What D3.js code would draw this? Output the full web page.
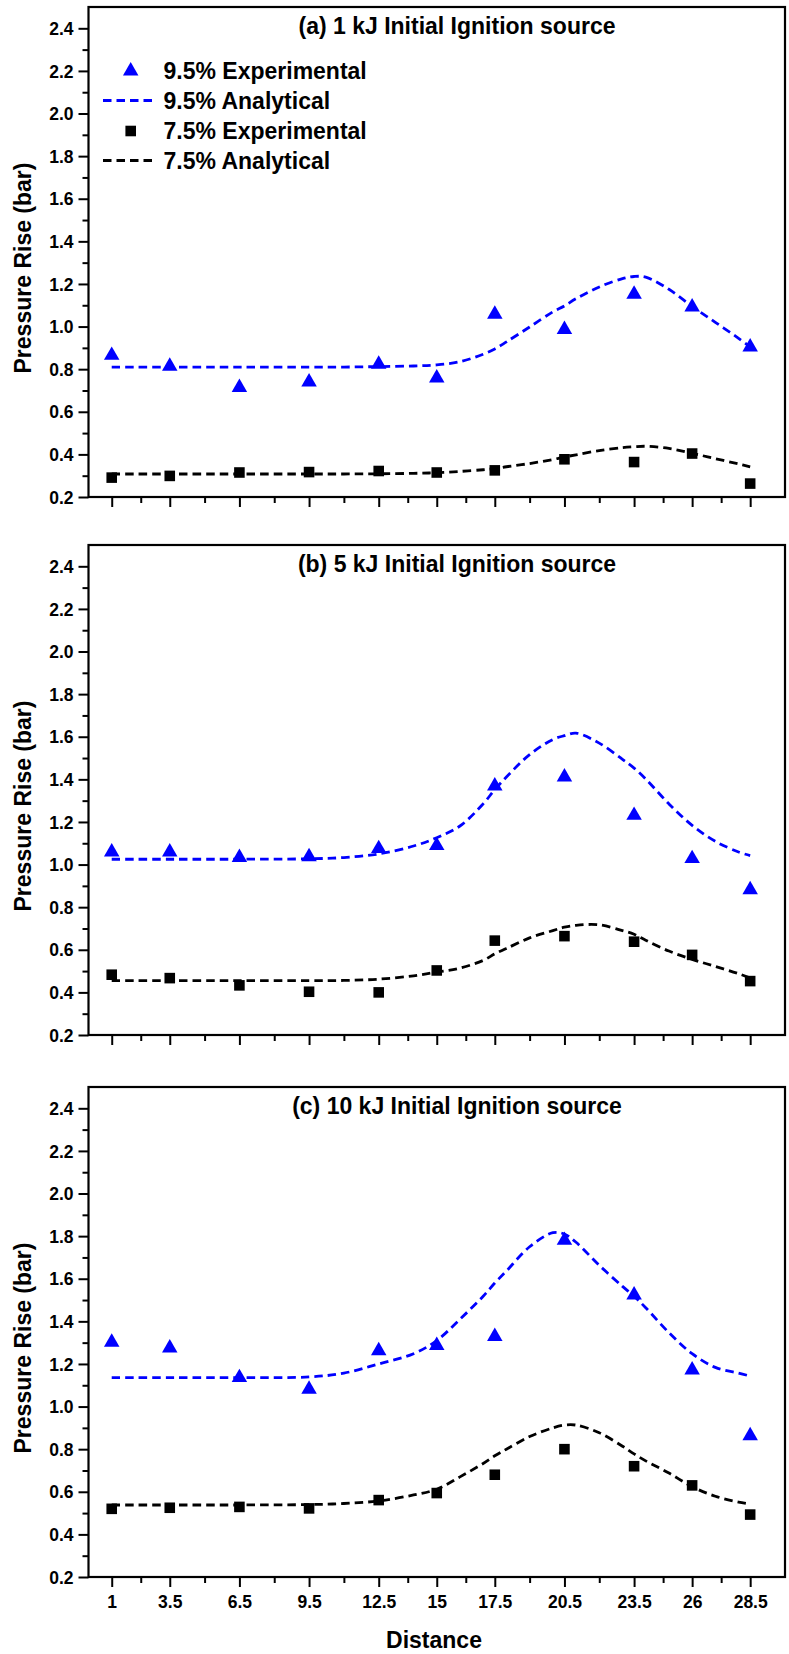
<!DOCTYPE html>
<html>
<head>
<meta charset="utf-8">
<script src="https://cdn.jsdelivr.net/npm/d3@7/dist/d3.min.js"></script>
<style>
  html, body { margin: 0; padding: 0; background: #fff; }
  svg text { font-family: "Liberation Sans", Arial, Helvetica, sans-serif; font-weight: bold; fill: #000; }
</style>
</head>
<body>
<svg id="chart" width="789" height="1654"></svg>
<script>
// Measurement positions along the duct and their tick labels
const distances = [1, 3.5, 6.5, 9.5, 12.5, 15, 17.5, 20.5, 23.5, 26, 28.5];
const distanceLabels = ["1", "3.5", "6.5", "9.5", "12.5", "15", "17.5", "20.5", "23.5", "26", "28.5"];
const minorDistances = [2.25, 5, 8, 11, 13.75, 16.25, 19, 22, 24.75, 27.25];
const pressureTicks = [0.2, 0.4, 0.6, 0.8, 1.0, 1.2, 1.4, 1.6, 1.8, 2.0, 2.2, 2.4];
const pressureMinor = [0.3, 0.5, 0.7, 0.9, 1.1, 1.3, 1.5, 1.7, 1.9, 2.1, 2.3];

const panelTitles = [
  "(a) 1 kJ Initial Ignition source",
  "(b) 5 kJ Initial Ignition source",
  "(c) 10 kJ Initial Ignition source"
];
const seriesNames = ["9.5% Experimental", "9.5% Analytical", "7.5% Experimental", "7.5% Analytical"];

// Measured pressure rise (bar)
const exp95_1kJ  = [0.865, 0.814, 0.714, 0.740, 0.823, 0.759, 1.058, 0.986, 1.152, 1.092, 0.904];
const exp75_1kJ  = [0.291, 0.299, 0.315, 0.317, 0.322, 0.315, 0.325, 0.377, 0.364, 0.404, 0.263];
const exp95_5kJ  = [1.059, 1.059, 1.033, 1.037, 1.075, 1.089, 1.369, 1.411, 1.231, 1.028, 0.882];
const exp75_5kJ  = [0.483, 0.467, 0.433, 0.403, 0.400, 0.503, 0.643, 0.664, 0.638, 0.576, 0.453];
const exp95_10kJ = [1.302, 1.275, 1.136, 1.081, 1.262, 1.287, 1.329, 1.780, 1.524, 1.172, 0.863];
const exp75_10kJ = [0.520, 0.525, 0.529, 0.522, 0.561, 0.594, 0.680, 0.800, 0.720, 0.630, 0.493];

// Analytical model, sampled along the duct
const modelX      = [1, 3.5, 6.5, 9.5, 11, 12.5, 14, 15, 16, 17, 17.5, 18, 19, 20, 20.5, 21, 22, 23, 23.5, 24, 25, 26, 27, 28, 28.5];
const ana95_1kJ   = [0.810, 0.810, 0.810, 0.810, 0.810, 0.812, 0.815, 0.820, 0.835, 0.870, 0.895, 0.928, 0.998, 1.069, 1.097, 1.131, 1.186, 1.225, 1.235, 1.232, 1.175, 1.095, 1.020, 0.945, 0.905];
const ana75_1kJ   = [0.308, 0.308, 0.308, 0.308, 0.308, 0.309, 0.311, 0.314, 0.320, 0.328, 0.333, 0.342, 0.357, 0.376, 0.388, 0.398, 0.418, 0.432, 0.436, 0.438, 0.428, 0.405, 0.380, 0.355, 0.341];
const ana95_5kJ   = [1.025, 1.025, 1.025, 1.027, 1.033, 1.050, 1.087, 1.126, 1.181, 1.285, 1.352, 1.411, 1.516, 1.587, 1.605, 1.617, 1.570, 1.494, 1.453, 1.402, 1.285, 1.184, 1.109, 1.059, 1.042];
const ana75_5kJ   = [0.455, 0.455, 0.455, 0.455, 0.456, 0.462, 0.478, 0.495, 0.514, 0.550, 0.581, 0.606, 0.656, 0.690, 0.706, 0.715, 0.717, 0.690, 0.673, 0.645, 0.594, 0.555, 0.522, 0.488, 0.468];
const ana95_10kJ  = [1.136, 1.136, 1.136, 1.139, 1.157, 1.200, 1.248, 1.310, 1.410, 1.518, 1.580, 1.636, 1.750, 1.816, 1.810, 1.771, 1.663, 1.564, 1.518, 1.464, 1.347, 1.248, 1.184, 1.157, 1.143];
const ana75_10kJ  = [0.538, 0.538, 0.538, 0.540, 0.545, 0.557, 0.585, 0.612, 0.670, 0.733, 0.769, 0.800, 0.859, 0.900, 0.913, 0.913, 0.877, 0.814, 0.778, 0.745, 0.688, 0.624, 0.579, 0.552, 0.543];

const panels = [
  { title: panelTitles[0], e95: exp95_1kJ,  e75: exp75_1kJ,  a95: ana95_1kJ,  a75: ana75_1kJ,  legend: true,  xLabels: false },
  { title: panelTitles[1], e95: exp95_5kJ,  e75: exp75_5kJ,  a95: ana95_5kJ,  a75: ana75_5kJ,  legend: false, xLabels: false },
  { title: panelTitles[2], e95: exp95_10kJ, e75: exp75_10kJ, a95: ana95_10kJ, a75: ana75_10kJ, legend: false, xLabels: true }
];

const BLUE = "#0000ff";
const svg = d3.select("#chart");

const plotLeft = 88.5, plotRight = 785, plotH = 490;
const panelTops = [7, 545, 1087];

const x = d3.scaleLinear().domain([0, 30]).range([plotLeft, plotRight]);

const triangle = d3.symbol().type(d3.symbolTriangle).size(104);
const square = d3.symbol().type(d3.symbolSquare).size(112);

panels.forEach((p, i) => {
  const top = panelTops[i];
  const y = d3.scaleLinear().domain([0.2, 2.5]).range([top + plotH, top]);
  const g = svg.append("g");

  // y axis: major and minor ticks
  const yMajor = g.append("g").attr("transform", `translate(${plotLeft},0)`)
    .call(d3.axisLeft(y).tickValues(pressureTicks).tickSize(10).tickSizeOuter(0).tickFormat(d3.format(".1f")));
  const yMinor = g.append("g").attr("transform", `translate(${plotLeft},0)`)
    .call(d3.axisLeft(y).tickValues(pressureMinor).tickSize(6).tickSizeOuter(0).tickFormat(""));

  // x axis: major and minor ticks
  const xMajor = g.append("g").attr("transform", `translate(0,${top + plotH})`)
    .call(d3.axisBottom(x).tickValues(distances).tickSize(10).tickSizeOuter(0)
      .tickFormat((d, k) => p.xLabels ? distanceLabels[k] : ""));
  const xMinor = g.append("g").attr("transform", `translate(0,${top + plotH})`)
    .call(d3.axisBottom(x).tickValues(minorDistances).tickSize(6).tickSizeOuter(0).tickFormat(""));

  [yMajor, yMinor, xMajor, xMinor].forEach(a => {
    a.select(".domain").remove();
    a.selectAll(".tick line").attr("stroke", "#000").attr("stroke-width", 2);
  });
  yMajor.selectAll(".tick text").attr("font-size", 17.5).attr("x", -15).attr("dy", "0.35em");
  xMajor.selectAll(".tick text").attr("font-size", 17.5).attr("y", 19).attr("dy", "0.71em");

  // frame
  g.append("rect")
    .attr("x", plotLeft).attr("y", top)
    .attr("width", plotRight - plotLeft).attr("height", plotH)
    .attr("fill", "none").attr("stroke", "#000").attr("stroke-width", 2.2);

  // title
  g.append("text").attr("x", 457).attr("y", top + 27)
    .attr("text-anchor", "middle").attr("font-size", 23).text(p.title);

  // y axis title
  g.append("text")
    .attr("transform", `translate(31,${top + plotH / 2 + 16}) rotate(-90)`)
    .attr("text-anchor", "middle").attr("font-size", 23)
    .text("Pressure Rise (bar)");

  // analytical curves
  const line = d3.line().x((d, k) => x(modelX[k])).y(d => y(d)).curve(d3.curveCatmullRom.alpha(0.5));
  g.append("path").datum(p.a95).attr("d", line)
    .attr("fill", "none").attr("stroke", BLUE).attr("stroke-width", 2.8).attr("stroke-dasharray", "8.5,5");
  g.append("path").datum(p.a75).attr("d", line)
    .attr("fill", "none").attr("stroke", "#000").attr("stroke-width", 2.8).attr("stroke-dasharray", "8.5,5");

  // experimental points
  g.append("g").selectAll("path").data(p.e95).join("path")
    .attr("d", triangle)
    .attr("transform", (d, k) => `translate(${x(distances[k])},${y(d)})`)
    .attr("fill", BLUE);
  g.append("g").selectAll("path").data(p.e75).join("path")
    .attr("d", square)
    .attr("transform", (d, k) => `translate(${x(distances[k])},${y(d)})`)
    .attr("fill", "#000");

  // legend
  if (p.legend) {
    const lg = g.append("g");
    const rows = [71, 100.5, 131, 160.5];
    const symX = 130.7, textX = 163.5;
    lg.append("path").attr("d", triangle).attr("transform", `translate(${symX},${rows[0]})`).attr("fill", BLUE);
    lg.append("line").attr("x1", 103).attr("x2", 153).attr("y1", rows[1]).attr("y2", rows[1])
      .attr("stroke", BLUE).attr("stroke-width", 2.8).attr("stroke-dasharray", "8.5,5");
    lg.append("path").attr("d", square).attr("transform", `translate(${symX},${rows[2]})`).attr("fill", "#000");
    lg.append("line").attr("x1", 103).attr("x2", 153).attr("y1", rows[3]).attr("y2", rows[3])
      .attr("stroke", "#000").attr("stroke-width", 2.8).attr("stroke-dasharray", "8.5,5");
    lg.selectAll("text").data(seriesNames).join("text")
      .attr("x", textX).attr("y", (d, k) => rows[k]).attr("dy", "0.36em")
      .attr("font-size", 23).text(d => d);
  }
});

// x axis title
svg.append("text").attr("x", 434).attr("y", 1640).attr("dy", "0.36em")
  .attr("text-anchor", "middle").attr("font-size", 23).text("Distance");
</script>
</body>
</html>
